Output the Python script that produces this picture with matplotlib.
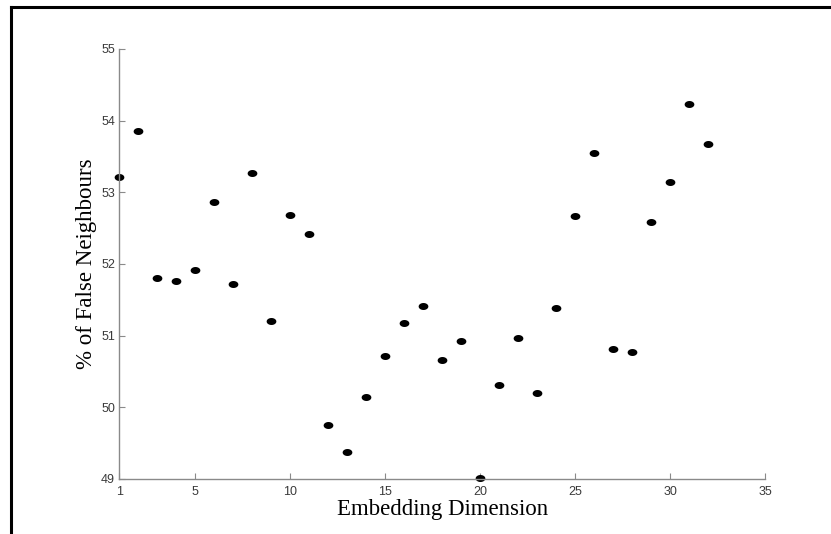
import matplotlib

matplotlib.use("Agg")
import numpy as np
import matplotlib.pyplot as plt
from matplotlib.lines import Line2D
from matplotlib.path import Path

# embedding dimension vs % of false nearest neighbours
dims = list(range(1, 33))
false_nn = [
    53.21, 53.86, 51.81, 51.76, 51.91, 52.87, 51.72, 53.27,
    51.21, 52.68, 52.42, 49.75, 49.38, 50.15, 50.71, 51.17,
    51.42, 50.66, 50.92, 49.02, 50.31, 50.97, 50.20, 51.38,
    52.67, 53.55, 50.82, 50.77, 52.58, 53.14, 54.23, 53.67,
]
xticks = [1, 5, 10, 15, 20, 25, 30, 35]
yticks = [49, 50, 51, 52, 53, 54, 55]

# dots in the source are slightly wider than tall
t = np.linspace(0, 2 * np.pi, 40)
dot = Path(np.column_stack([np.cos(t), 0.72 * np.sin(t)]), closed=True)

fig = plt.figure(figsize=(8.31, 5.34), dpi=100)
ax = fig.add_axes([0.1436, 0.103, 0.7770, 0.8055])

ax.plot(dims, false_nn, linestyle="none", marker=dot, color="black",
        markersize=7, markeredgewidth=0, clip_on=False)

ax.set_xlim(1, 35)
ax.set_ylim(49, 55)
ax.set_xticks(xticks)
ax.set_yticks(yticks)

for side in ("top", "right"):
    ax.spines[side].set_visible(False)
for side in ("left", "bottom"):
    ax.spines[side].set_color("#8a8a8a")
    ax.spines[side].set_linewidth(1.0)

ax.tick_params(direction="in", length=4, width=0.8, color="#8a8a8a",
               labelsize=9, labelcolor="#3a3a3a")
ax.tick_params(axis="y", pad=3)
ax.tick_params(axis="x", pad=5)
for lab in ax.get_xticklabels() + ax.get_yticklabels():
    lab.set_family("Liberation Sans")

ax.set_xlabel("Embedding Dimension", family="Liberation Serif", fontsize=16.5,
              labelpad=1)
ax.set_ylabel("% of False Neighbours", family="Liberation Serif", fontsize=16.5,
              labelpad=3)

# page frame edges (top and left only)
fig.add_artist(Line2D([0.013, 1.0], [0.986, 0.986], transform=fig.transFigure,
                      color="black", linewidth=2.2))
fig.add_artist(Line2D([0.013, 0.013], [0.0, 0.986], transform=fig.transFigure,
                      color="black", linewidth=2.2))

fig.savefig("out.png", dpi=100)
